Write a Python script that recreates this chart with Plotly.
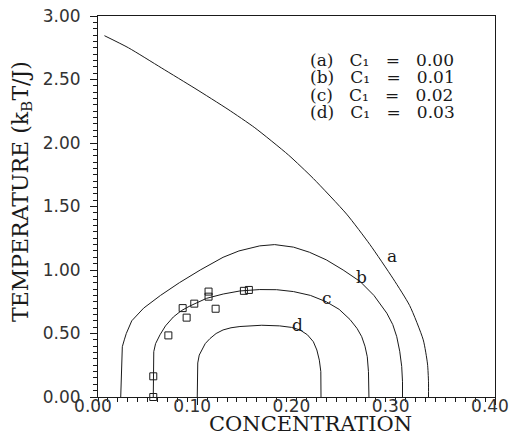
import plotly.graph_objects as go

# Phase boundary curves (concentration, temperature)
a_x = [0.0065, 0.0306, 0.0642, 0.0977, 0.131, 0.158, 0.192, 0.217, 0.2505, 0.274, 0.2975, 0.314, 0.3277, 0.332, 0.333, 0.333]
a_t = [2.845, 2.75, 2.59, 2.43, 2.265, 2.12, 1.905, 1.72, 1.44, 1.2, 0.93, 0.72, 0.45, 0.26, 0.12, 0.0]

b_x = [0.0229, 0.0235, 0.0245, 0.0265, 0.0285, 0.034, 0.046, 0.063, 0.082, 0.103, 0.126, 0.142, 0.163, 0.178,
       0.197, 0.213, 0.230, 0.247, 0.264, 0.278, 0.291, 0.297, 0.301, 0.304, 0.306, 0.3068, 0.3068]
b_t = [0.0, 0.2, 0.396, 0.45, 0.5, 0.6, 0.7, 0.8, 0.9, 1.0, 1.1, 1.15, 1.19, 1.2,
       1.18, 1.14, 1.08, 1.0, 0.91, 0.80, 0.66, 0.57, 0.475, 0.36, 0.24, 0.12, 0.0]

c_x = [0.0557, 0.0557, 0.0562, 0.058, 0.0625, 0.068, 0.0759, 0.084, 0.0927, 0.1094, 0.1262, 0.143, 0.163, 0.18,
       0.197, 0.214, 0.230, 0.243, 0.2539, 0.261, 0.2657, 0.269, 0.2713, 0.2725, 0.273]
c_t = [0.0, 0.2, 0.357, 0.42, 0.49, 0.56, 0.63, 0.68, 0.717, 0.777, 0.811, 0.835, 0.846, 0.845,
       0.83, 0.80, 0.75, 0.69, 0.61, 0.54, 0.475, 0.40, 0.317, 0.2, 0.0]

d_x = [0.100, 0.100, 0.1005, 0.102, 0.1044, 0.108, 0.1128, 0.119, 0.126, 0.134, 0.143, 0.165, 0.183,
       0.195, 0.2035, 0.211, 0.217, 0.2205, 0.223, 0.2245, 0.2247]
d_t = [0.0, 0.2, 0.268, 0.33, 0.37, 0.42, 0.46, 0.50, 0.528, 0.545, 0.555, 0.565, 0.56,
       0.548, 0.528, 0.49, 0.435, 0.37, 0.29, 0.2, 0.0]

# Experimental points (open squares)
pts_x = [0.0557, 0.0557, 0.0709, 0.0853, 0.0893, 0.097, 0.1114, 0.1114, 0.1185, 0.147, 0.152]
pts_t = [0.0, 0.163, 0.485, 0.70, 0.625, 0.735, 0.83, 0.79, 0.695, 0.836, 0.843]

# Curve letter labels
lab_text = ["a", "b", "c", "d"]
lab_x = [0.2965, 0.2657, 0.2304, 0.2008]
lab_t = [1.11, 0.947, 0.78, 0.565]

# Legend rows
leg_tag = ["(a)", "(b)", "(c)", "(d)"]
leg_c1 = ["0.00", "0.01", "0.02", "0.03"]

x_ticks = [0.0, 0.1, 0.2, 0.3, 0.4]
x_ticktext = ["0.00", "0.10", "0.20", "0.30", "0.40"]
y_ticks = [0.0, 0.5, 1.0, 1.5, 2.0, 2.5, 3.0]
y_ticktext = ["0.00", "0.50", "1.00", "1.50", "2.00", "2.50", "3.00"]

LINE = "#1a1a1a"
fig = go.Figure()
for i, (xs, ts) in enumerate([(a_x, a_t), (b_x, b_t), (c_x, c_t), (d_x, d_t)]):
    shape = dict(shape="spline", smoothing=0.6) if i == 0 else dict(shape="linear")
    fig.add_trace(go.Scatter(x=xs, y=ts, mode="lines",
                             line=dict(color=LINE, width=1, **shape), showlegend=False,
                             hoverinfo="skip"))
fig.add_trace(go.Scatter(x=pts_x, y=pts_t, mode="markers", cliponaxis=False,
                         marker=dict(symbol="square-open", size=7, color=LINE,
                                     line=dict(width=1, color=LINE)),
                         showlegend=False))

annotations = []
for t, x, y in zip(lab_text, lab_x, lab_t):
    annotations.append(dict(x=x, y=y, xref="x", yref="y", text=t, showarrow=False,
                            font=dict(family="DejaVu Serif", size=17, color=LINE)))

nb = "\u00a0"
row_y = [0.885, 0.839, 0.793, 0.747]
for tag, val, ry in zip(leg_tag, leg_c1, row_y):
    txt = tag + nb * 3 + "C\u2081" + nb * 3 + "=" + nb * 3 + val
    annotations.append(dict(x=0.53, y=ry, xref="paper", yref="paper", text=txt,
                            showarrow=False, xanchor="left", yanchor="middle",
                            font=dict(family="DejaVu Serif", size=17, color=LINE)))

annotations.append(dict(x=0.5365, y=-0.071, xref="paper", yref="paper",
                        text="CONCENTRATION", showarrow=False, xanchor="center",
                        yanchor="middle",
                        font=dict(family="DejaVu Serif", size=21, color=LINE)))
annotations.append(dict(x=-0.192, y=0.54, xref="paper", yref="paper",
                        text="TEMPERATURE (k<sub>B</sub>T/J)", showarrow=False,
                        textangle=-90, xanchor="center", yanchor="middle",
                        font=dict(family="DejaVu Serif", size=22, color=LINE)))

fig.update_layout(
    width=511, height=445,
    margin=dict(l=98, r=16, t=16, b=48),
    paper_bgcolor="white", plot_bgcolor="white",
    showlegend=False,
    annotations=annotations,
    xaxis=dict(range=[0, 0.4], tickvals=x_ticks, ticktext=x_ticktext,
               automargin=False,
               showgrid=False, zeroline=False, showline=True, linecolor=LINE,
               linewidth=1, mirror=True, ticks="outside", ticklen=7,
               tickcolor=LINE, tickwidth=1, ticklabelshift=-5, ticklabelstandoff=-13,
               tickfont=dict(family="DejaVu Sans", size=17, color="#333"),
               minor=dict(dtick=0.01, ticks="outside", ticklen=4,
                          tickcolor=LINE, tickwidth=1, showgrid=False)),
    yaxis=dict(range=[0, 3.0], tickvals=y_ticks, ticktext=y_ticktext,
               automargin=False,
               showgrid=False, zeroline=False, showline=True, linecolor=LINE,
               linewidth=1, mirror=True, ticks="outside", ticklen=7,
               tickcolor=LINE, tickwidth=1, ticklabelstandoff=6,
               tickfont=dict(family="DejaVu Sans", size=17, color="#333"),
               minor=dict(dtick=0.05, ticks="outside", ticklen=4,
                          tickcolor=LINE, tickwidth=1, showgrid=False)),
)

fig.write_html("out.html")
